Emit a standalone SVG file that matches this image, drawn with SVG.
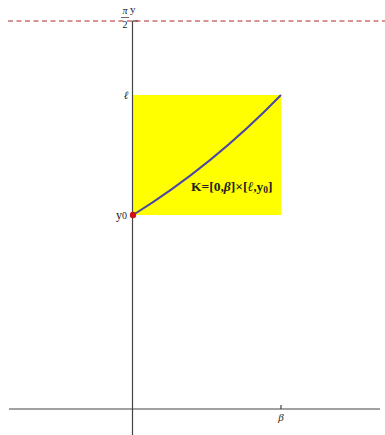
<svg xmlns="http://www.w3.org/2000/svg" width="385" height="435" viewBox="0 0 385 435">
<style>
.t{font-family:"Liberation Serif","DejaVu Serif",serif;fill:#222}
.i{font-style:italic}
.ax{stroke:#444;stroke-width:1.2;fill:none}
</style>
<rect width="385" height="435" fill="#fff"/>
<g id="region">
<rect x="133" y="95" width="148" height="120" fill="#ffff00"/>
</g>
<g id="axes">
<line class="ax" x1="9" y1="409" x2="380" y2="409" stroke="#666"/>
<line class="ax" x1="132.5" y1="21" x2="132.5" y2="435"/>
<line class="ax" x1="132.5" y1="21" x2="138" y2="21"/>
<line class="ax" x1="281" y1="405" x2="281" y2="409"/>
<line x1="8" y1="21" x2="385" y2="21" stroke="#b02828" stroke-width="1" stroke-dasharray="5,3.5"/>
</g>
<g id="curve">
<path d="M133,215 Q212,166 281,95" fill="none" stroke="#4a45a8" stroke-width="2"/>
<circle cx="133" cy="215" r="3.2" fill="#d01010"/>
</g>
<g id="labels">
<text class="t i" x="125" y="14" font-size="10" text-anchor="middle">π</text>
<line x1="121" y1="17.5" x2="129" y2="17.5" stroke="#444" stroke-width="0.8"/>
<text class="t" x="125" y="28" font-size="10" text-anchor="middle">2</text>
<text class="t" x="130" y="13" font-size="11">y</text>
<text class="t i" x="126" y="99" font-size="11" text-anchor="middle">ℓ</text>
<text class="t" x="116" y="219" font-size="12">y<tspan font-size="10">0</tspan></text>
<text class="t i" x="281" y="421" font-size="11" text-anchor="middle">β</text>
<text class="t" x="191" y="191" font-size="13.5" font-weight="bold" fill="#222">K=[0,<tspan font-style="italic">β</tspan>]×[<tspan font-style="italic">ℓ</tspan>,y<tspan font-size="9.5" dy="2">0</tspan><tspan dy="-2">]</tspan></text>
</g>
</svg>
